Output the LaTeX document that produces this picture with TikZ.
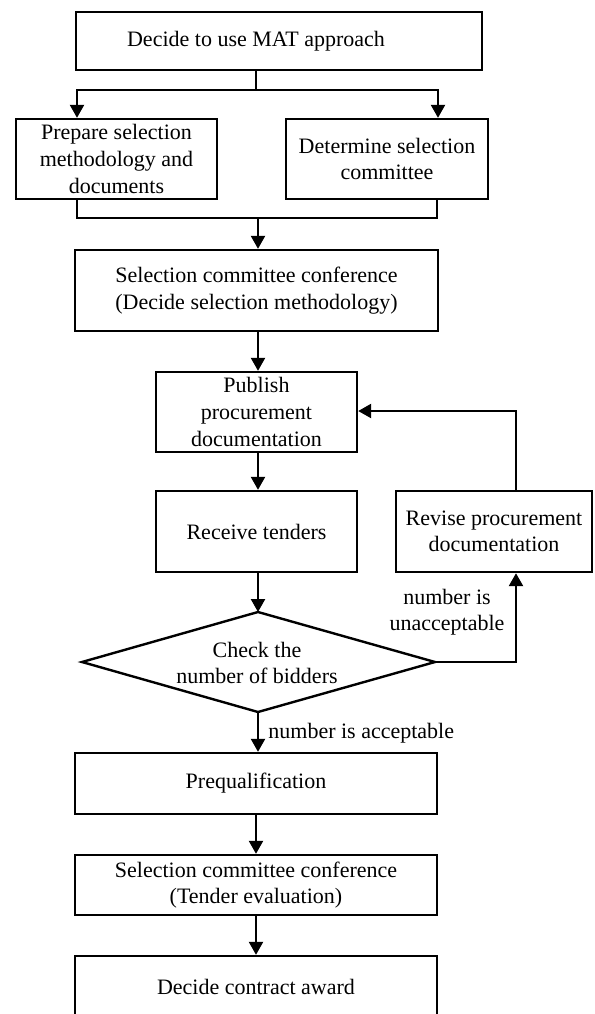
\documentclass[tikz,border=0pt]{standalone}
\usepackage{fontspec}
\setmainfont{Liberation Serif}
\usetikzlibrary{arrows.meta}
\begin{document}
\begin{tikzpicture}[x=0.5pt,y=-0.5pt,
 box/.style={draw,line width=1.2pt,rectangle,inner sep=0pt,align=center,font=\fontsize{11}{13.3}\selectfont},
 lbl/.style={inner sep=0pt,align=center,font=\fontsize{11}{13.3}\selectfont},
 line/.style={line width=1.2pt},
 arr/.style={line width=1.2pt,-{Triangle[length=6.5pt,width=7pt]}}]
\useasboundingbox (0,0) rectangle (595,1014);
% boxes
\node[box,minimum width=203pt,minimum height=29pt] (b1) at (279,41) {};
\node[lbl] (t1) at (256,41) {Decide to use MAT approach};
\node[box,minimum width=100.5pt,minimum height=40pt] (b2) at (116.5,159) {Prepare selection\\methodology and\\documents};
\node[box,minimum width=101pt,minimum height=40pt] (b3) at (387,159) {Determine selection\\committee};
\node[box,minimum width=181.5pt,minimum height=40.5pt] (b4) at (256.5,290.5) {Selection committee conference\\(Decide selection methodology)};
\node[box,minimum width=100.5pt,minimum height=40pt] (b5) at (256.5,412) {Publish\\procurement\\documentation};
\node[box,minimum width=100.5pt,minimum height=40.5pt] (b6) at (256.5,531.5) {Receive tenders};
\node[box,minimum width=98pt,minimum height=40.5pt] (rev) at (494,531.5) {Revise procurement\\documentation};
% diamond
\coordinate (dt) at (258,612);
\coordinate (dl) at (82,662);
\coordinate (dr) at (435,662);
\coordinate (db) at (258,712);
\draw[line,line join=miter] (dt) -- (dr) -- (db) -- (dl) -- cycle;
\node[lbl] (dtext) at (257,663) {Check the\\number of bidders};
\node[box,minimum width=181pt,minimum height=30.5pt] (b7) at (256,783.5) {Prequalification};
\node[box,minimum width=181pt,minimum height=30pt] (b8) at (256,885) {Selection committee conference\\(Tender evaluation)};
\node[box,minimum width=181pt,minimum height=31pt] (b9) at (256,987) {Decide contract award};
% split
\coordinate (s1) at (256,90);
\coordinate (sl) at (77,90);
\coordinate (sr) at (438,90);
\draw[line] (b1.south -| s1) -- (s1);
\draw[arr] (s1) -- (sl) -- (sl |- b2.north);
\draw[arr] (s1) -- (sr) -- (sr |- b3.north);
% merge
\coordinate (ml) at (77,218);
\coordinate (mr) at (437,218);
\coordinate (m) at (258,218);
\draw[line] (ml |- b2.south) -- (ml) -- (mr) -- (mr |- b3.south);
\draw[arr] (m) -- (m |- b4.north);
% main chain
\draw[arr] (b4.south -| m) -- (b5.north -| m);
\draw[arr] (b5.south -| m) -- (b6.north -| m);
\draw[arr] (b6.south -| dt) -- (dt);
% loop
\coordinate (ur) at (516,662);
\coordinate (ut) at (516,411);
\draw[arr] (dr) -- (ur) -- (ur |- rev.south);
\draw[arr] (ur |- rev.north) -- (ut) -- (b5.east |- ut);
\node[lbl] (nu) at (447,612) {number is\\unacceptable};
% bottom chain
\draw[arr] (db) -- (db |- b7.north);
\node[lbl,anchor=west] (na) at (268,733) {number is acceptable};
\draw[arr] (b7.south) -- (b8.north);
\draw[arr] (b8.south) -- (b9.north);
\end{tikzpicture}
\end{document}
